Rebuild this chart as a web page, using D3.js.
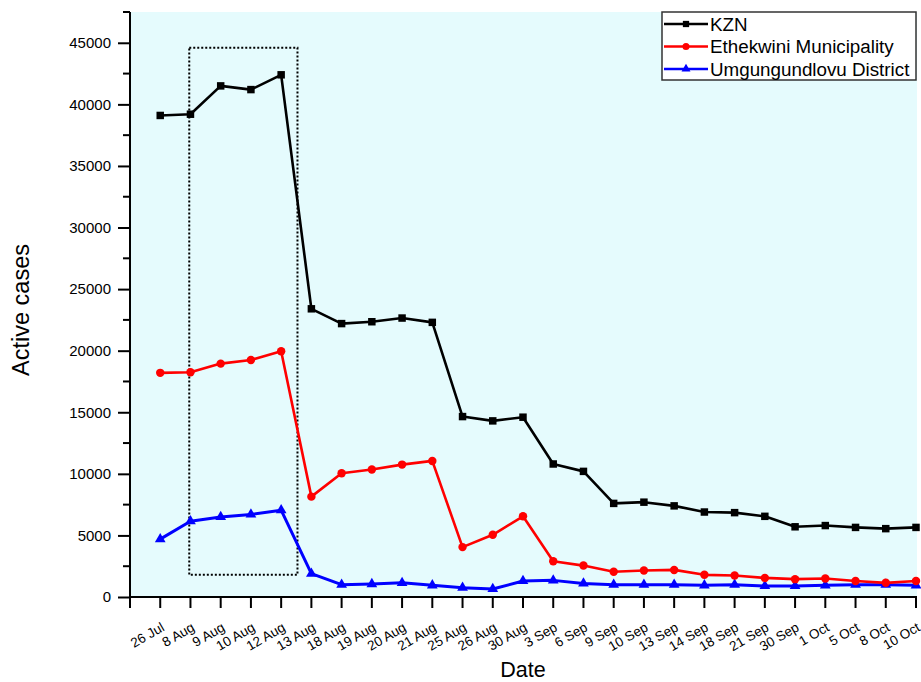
<!DOCTYPE html>
<html>
<head>
<meta charset="utf-8">
<script src="https://cdn.jsdelivr.net/npm/d3@7"></script>
<style>
  html, body { margin: 0; padding: 0; background: #ffffff; }
  svg { display: block; }
  text { font-family: Arial, "Liberation Sans", sans-serif; fill: #000; }
</style>
</head>
<body>
<svg id="chart" width="921" height="682"></svg>
<script>
const dates = ["26 Jul","8 Aug","9 Aug","10 Aug","12 Aug","13 Aug","18 Aug","19 Aug","20 Aug","21 Aug","25 Aug","26 Aug","30 Aug","3 Sep","6 Sep","9 Sep","10 Sep","13 Sep","14 Sep","18 Sep","21 Sep","30 Sep","1 Oct","5 Oct","8 Oct","10 Oct"];
const kzn = [39100,39200,41500,41200,42400,23400,22200,22350,22650,22300,14650,14300,14600,10800,10200,7600,7700,7400,6900,6850,6550,5700,5800,5650,5550,5650];
const ethekwini = [18200,18250,18950,19250,19950,8150,10050,10350,10750,11050,4050,5050,6550,2900,2550,2050,2150,2200,1800,1750,1550,1450,1500,1300,1150,1300];
const umgungundlovu = [4700,6150,6500,6700,7050,1900,1000,1050,1150,950,750,650,1300,1350,1100,1000,1000,1000,950,1000,900,900,950,1000,1000,950];
const yTicks = [0,5000,10000,15000,20000,25000,30000,35000,40000,45000];
const seriesNames = ["KZN","Ethekwini Municipality","Umgungundlovu District"];

const svg = d3.select("#chart");
const pL = 130, pR = 917, pT = 12, pB = 597;

const x = d3.scaleLinear().domain([-1, dates.length - 1]).range([pL, 916]);
const y = d3.scaleLinear().domain([0, 47500]).range([pB, pT]);

// plot background
svg.append("rect").attr("x", pL).attr("y", pT)
  .attr("width", pR - pL).attr("height", pB - pT)
  .attr("fill", "#e5fbfd");

// dotted highlight box
svg.append("rect")
  .attr("x", x(0.96)).attr("y", y(44600))
  .attr("width", x(4.54) - x(0.96)).attr("height", y(1800) - y(44600))
  .attr("fill", "none").attr("stroke", "#000").attr("stroke-width", 2)
  .attr("stroke-dasharray", "2,2");

// Y axis
const yAxis = d3.axisLeft(y).tickValues(yTicks).tickSize(12).tickPadding(7).tickFormat(d3.format("d"));
const gy = svg.append("g").attr("transform", `translate(${pL},0)`).call(yAxis);
gy.select(".domain").remove();
gy.selectAll(".tick line").attr("stroke", "#000").attr("stroke-width", 2);
gy.selectAll(".tick text").attr("font-size", 15).attr("fill", "#000")
  .attr("font-family", "Arial, 'Liberation Sans', sans-serif");
// minor y ticks
const minor = d3.range(2500, 47501, 5000);
svg.append("g").selectAll("line").data(minor).join("line")
  .attr("x1", pL - 7).attr("x2", pL).attr("y1", d => y(d)).attr("y2", d => y(d))
  .attr("stroke", "#000").attr("stroke-width", 2);
svg.append("line").attr("x1", pL).attr("x2", pL).attr("y1", pT).attr("y2", pB + 1)
  .attr("stroke", "#000").attr("stroke-width", 2);

// X axis
const idx = d3.range(-1, dates.length);
const gx = svg.append("g");
gx.append("line").attr("x1", pL - 1).attr("x2", 917).attr("y1", pB).attr("y2", pB)
  .attr("stroke", "#000").attr("stroke-width", 2);
gx.selectAll("line.tk").data(idx).join("line").attr("class", "tk")
  .attr("x1", d => x(d)).attr("x2", d => x(d)).attr("y1", pB).attr("y2", pB + 11)
  .attr("stroke", "#000").attr("stroke-width", 2);
gx.selectAll("text").data(dates).join("text")
  .attr("transform", (d, i) => `translate(${x(i) + 5},${pB + 33}) rotate(-30)`)
  .attr("text-anchor", "end").attr("font-size", 13.5).text(d => d);

// axis titles
svg.append("text").attr("transform", `translate(29,310) rotate(-90)`)
  .attr("text-anchor", "middle").attr("font-size", 23.5).text("Active cases");
svg.append("text").attr("x", 523).attr("y", 677).attr("text-anchor", "middle")
  .attr("font-size", 21.5).text("Date");

// series
const series = [
  {name: seriesNames[0], values: kzn, color: "#000000", shape: d3.symbolSquare, size: 56, width: 2.6},
  {name: seriesNames[1], values: ethekwini, color: "#ff0000", shape: d3.symbolCircle, size: 56, width: 2.6},
  {name: seriesNames[2], values: umgungundlovu, color: "#0000ff", shape: d3.symbolTriangle, size: 50, width: 3}
];
const line = d3.line().x((d, i) => x(i)).y(d => y(d));
series.slice().reverse().forEach(s => {
  svg.append("path").datum(s.values).attr("d", line)
    .attr("fill", "none").attr("stroke", s.color).attr("stroke-width", s.width)
    .attr("stroke-linejoin", "round");
  svg.append("g").selectAll("path").data(s.values).join("path")
    .attr("transform", (d, i) => `translate(${x(i)},${y(d)})`)
    .attr("d", d3.symbol().type(s.shape).size(s.size)).attr("fill", s.color);
});

// legend
const lg = svg.append("g");
lg.append("rect").attr("x", 662).attr("y", 12).attr("width", 254).attr("height", 68)
  .attr("fill", "#ffffff").attr("stroke", "#333").attr("stroke-width", 1.5);
series.forEach((s, i) => {
  const cy = 24 + i * 22.5;
  lg.append("line").attr("x1", 664).attr("x2", 708).attr("y1", cy).attr("y2", cy)
    .attr("stroke", s.color).attr("stroke-width", 2.5);
  lg.append("path").attr("transform", `translate(686,${cy})`)
    .attr("d", d3.symbol().type(s.shape).size(s.size * 0.7)).attr("fill", s.color);
  lg.append("text").attr("x", 710).attr("y", cy + 6.5).attr("font-size", 18.8).text(s.name);
});
</script>
</body>
</html>
